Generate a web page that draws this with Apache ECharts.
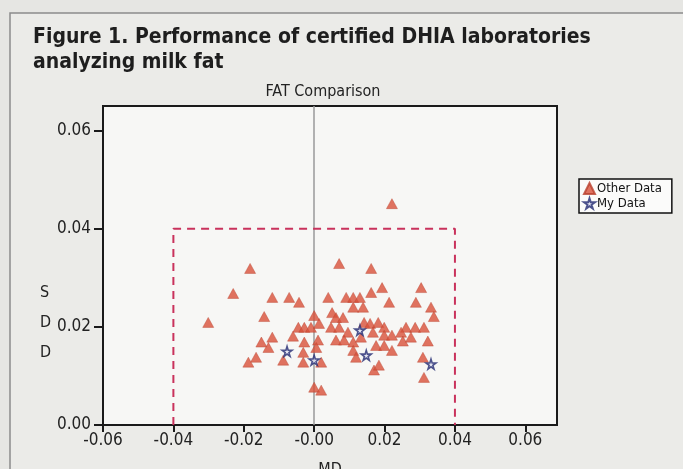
<!DOCTYPE html>
<html>
<head>
<meta charset="utf-8">
<script src="https://cdn.jsdelivr.net/npm/echarts@6/dist/echarts.min.js"></script>
<style>
    html, body { margin: 0; padding: 0; background: #e6e6e3; }
    #chart { width: 683px; height: 469px; }
</style>
</head>
<body>
<div id="chart"></div>
<script>
    // tick values and their printed labels
    var xTicks = [-0.06, -0.04, -0.02, 0, 0.02, 0.04, 0.06]
    var xTickLabels = ['-0.06', '-0.04', '-0.02', '-0.00', '0.02', '0.04', '0.06']
    var yTicks = [0, 0.02, 0.04, 0.06]
    var yTickLabels = ['0.00', '0.02', '0.04', '0.06']

    // acceptance limits (dashed box): MD -0.04..0.04, SD 0..0.04
    var limitBox = [[-0.04, 0], [-0.04, 0.04], [0.04, 0.04], [0.04, 0]]

    // [MD, SD] of the other labs
    var otherData = [
        [0.0221, 0.0451], [-0.0182, 0.0319], [0.0071, 0.0329], [0.0162, 0.0319],
        [0.0193, 0.0280], [0.0304, 0.0280], [-0.0230, 0.0268], [0.0162, 0.0270],
        [-0.0119, 0.0260], [-0.0071, 0.0260], [-0.0043, 0.0250], [0.0040, 0.0260],
        [0.0091, 0.0260], [0.0111, 0.0260], [0.0130, 0.0260], [0.0213, 0.0250],
        [0.0289, 0.0250], [0.0111, 0.0240], [0.0139, 0.0240], [0.0332, 0.0240],
        [0.0340, 0.0221], [-0.0301, 0.0209], [-0.0142, 0.0221], [0.0000, 0.0223],
        [0.0051, 0.0229], [0.0062, 0.0219], [0.0082, 0.0219], [-0.0045, 0.0199],
        [-0.0028, 0.0199], [-0.0009, 0.0199], [0.0014, 0.0207], [0.0048, 0.0199],
        [0.0071, 0.0199], [0.0096, 0.0189], [0.0142, 0.0209], [0.0159, 0.0207],
        [0.0182, 0.0209], [0.0199, 0.0199], [0.0261, 0.0199], [0.0287, 0.0199],
        [0.0312, 0.0199], [-0.0150, 0.0169], [-0.0119, 0.0179], [-0.0130, 0.0158],
        [-0.0060, 0.0181], [-0.0028, 0.0169], [0.0011, 0.0173], [0.0062, 0.0173],
        [0.0085, 0.0173], [0.0111, 0.0169], [0.0133, 0.0179], [0.0167, 0.0189],
        [0.0199, 0.0183], [0.0221, 0.0183], [0.0247, 0.0189], [0.0252, 0.0171],
        [0.0275, 0.0179], [0.0323, 0.0171], [0.0111, 0.0152], [0.0176, 0.0162],
        [0.0199, 0.0162], [0.0221, 0.0152], [-0.0165, 0.0138], [-0.0187, 0.0128],
        [-0.0088, 0.0132], [-0.0031, 0.0148], [-0.0031, 0.0128], [0.0006, 0.0158],
        [0.0020, 0.0128], [0.0119, 0.0138], [0.0309, 0.0138], [0.0170, 0.0112],
        [0.0184, 0.0122], [0.0312, 0.0097], [0.0000, 0.0077], [0.0020, 0.0071]
    ]

    // [MD, SD] of my lab
    var myData = [
        [-0.0077, 0.0150], [0.0000, 0.0132], [0.0130, 0.0193], [0.0148, 0.0142], [0.0332, 0.0124]
    ]

    var narrow = '"Liberation Sans Narrow", "DejaVu Sans Condensed", "Liberation Sans", sans-serif'
    var starPath = 'path://M50,0 L61,35 L98,35 L68,57 L79,91 L50,70 L21,91 L32,57 L2,35 L39,35 Z'

    function pickLabel(ticks, labels) {
        return function (v) {
            var i = ticks.findIndex(function (t) { return Math.abs(t - v) < 1e-9 })
            return i >= 0 ? labels[i] : ''
        }
    }

    var myChart = echarts.init(document.getElementById('chart'))
    myChart.setOption({
        backgroundColor: '#e6e6e3',
        animation: false,
        title: [
            {
                text: 'Figure 1. Performance of certified DHIA laboratories\nanalyzing milk fat',
                left: 28,
                top: 20,
                textStyle: {
                    fontFamily: narrow,
                    fontWeight: 'bold',
                    fontSize: 21,
                    lineHeight: 25,
                    color: '#1e1e1e'
                }
            },
            {
                text: 'FAT Comparison',
                left: 318,
                top: 79,
                textAlign: 'center',
                textStyle: {
                    fontFamily: narrow,
                    fontWeight: 'normal',
                    fontSize: 16,
                    color: '#222'
                }
            }
        ],
        graphic: [
            {
                type: 'rect',
                shape: {x: 10, y: 13, width: 700, height: 480},
                style: {fill: '#ebebe8', stroke: '#8c8c8c', lineWidth: 1.5},
                z: -10
            },
            {
                type: 'text',
                left: 40,
                top: 278,
                style: {
                    text: 'S\nD\nD',
                    font: '16px ' + narrow,
                    lineHeight: 30,
                    fill: '#222',
                    align: 'center'
                }
            }
        ],
        legend: {
            data: ['Other Data', 'My Data'],
            left: 579,
            top: 179,
            orient: 'vertical',
            backgroundColor: '#fbfbfa',
            borderColor: '#111',
            borderWidth: 1.5,
            borderRadius: 0,
            padding: [3, 10, 3, 4],
            itemGap: 2,
            itemWidth: 11,
            itemHeight: 11,
            textStyle: {fontFamily: narrow, fontSize: 13, color: '#111', padding: [0, 0, 0, -3]}
        },
        grid: {
            left: 103,
            right: 126,
            top: 106,
            bottom: 44,
            outerBoundsMode: 'none',
            containLabel: false,
            show: true,
            backgroundColor: '#f7f7f5',
            borderColor: '#1a1a1a',
            borderWidth: 2
        },
        xAxis: {
            type: 'value',
            min: -0.06,
            max: 0.069,
            name: 'MD',
            nameLocation: 'middle',
            nameGap: 37,
            nameTextStyle: {fontFamily: narrow, fontSize: 16, color: '#222'},
            splitLine: {show: false},
            axisLine: {onZero: false, lineStyle: {color: '#1a1a1a', width: 2}},
            axisTick: {customValues: xTicks, length: 7, lineStyle: {color: '#1a1a1a', width: 2}},
            axisLabel: {
                customValues: xTicks,
                margin: 7,
                fontFamily: narrow,
                fontSize: 17,
                color: '#222',
                formatter: pickLabel(xTicks, xTickLabels)
            }
        },
        yAxis: {
            type: 'value',
            min: 0,
            max: 0.065,
            splitLine: {show: false},
            axisLine: {onZero: false, lineStyle: {color: '#1a1a1a', width: 2}},
            axisTick: {customValues: yTicks, length: 9, lineStyle: {color: '#1a1a1a', width: 2}},
            axisLabel: {
                customValues: yTicks,
                margin: 12,
                fontFamily: narrow,
                fontSize: 17,
                color: '#222',
                formatter: pickLabel(yTicks, yTickLabels)
            }
        },
        series: [
            {
                name: 'limits',
                type: 'line',
                data: limitBox,
                showSymbol: false,
                silent: true,
                z: 1,
                lineStyle: {color: '#c9325c', width: 2, type: [8, 6]}
            },
            {
                name: 'Other Data',
                type: 'scatter',
                data: otherData,
                symbol: 'triangle',
                symbolSize: [11, 10],
                z: 3,
                itemStyle: {color: '#d8503a', borderColor: '#b8402e', borderWidth: 0.5},
                markLine: {
                    silent: true,
                    symbol: 'none',
                    label: {show: false},
                    lineStyle: {color: '#9a9a9a', width: 1.5, type: 'solid'},
                    data: [{xAxis: 0}],
                    z: 1
                }
            },
            {
                name: 'My Data',
                type: 'scatter',
                data: myData,
                symbol: starPath,
                symbolSize: 10,
                z: 4,
                itemStyle: {color: '#dfe0f0', borderColor: '#232a72', borderWidth: 1.6}
            }
        ]
    })
</script>
</body>
</html>
